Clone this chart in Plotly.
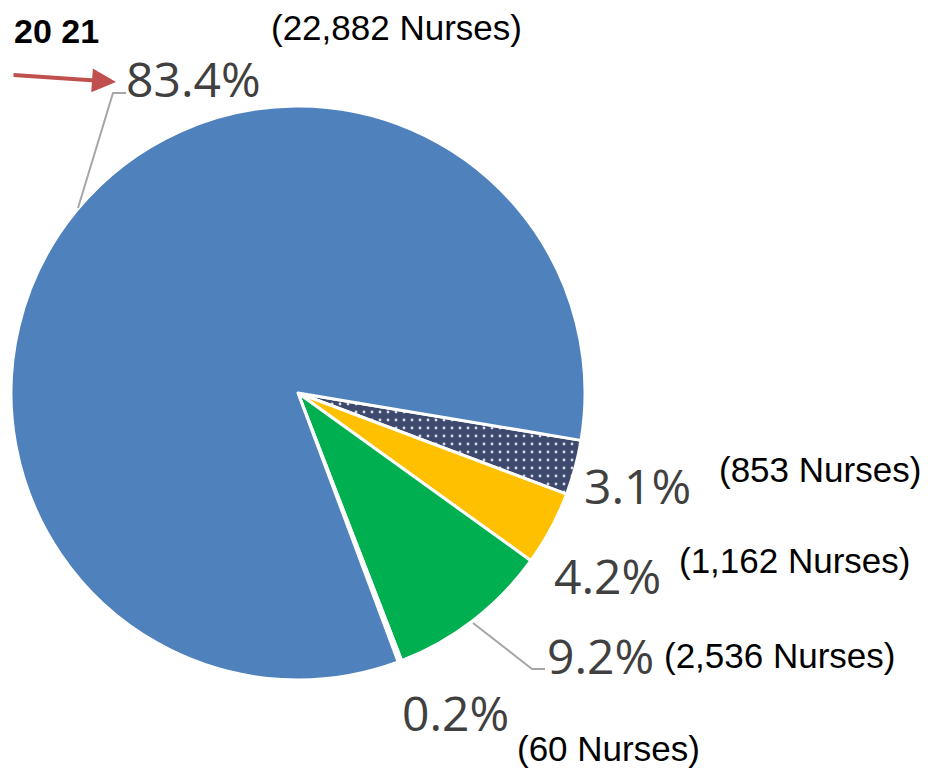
import plotly.graph_objects as go

W, H = 931, 775
OFF = 8  # page body margin offset

categories = ["Group A", "Group B", "Group C", "Group D", "Group E"]
percents = [3.1, 4.2, 9.2, 0.2, 83.4]
nurses = [853, 1162, 2536, 60, 22882]
colors = ["#3E4A6D", "#FFC000", "#00B050", "#FFFFFF", "#4F81BD"]
patterns = [".", "", "", "", ""]

def px(x, y):
    return (x - OFF) / W, 1 - (y - OFF) / H

fig = go.Figure()
d0 = px(11, 680)
d1 = px(585, 106)
fig.add_trace(go.Pie(
    labels=categories,
    values=percents,
    sort=False,
    direction="clockwise",
    rotation=99.5,
    textinfo="none",
    hoverinfo="label+percent",
    marker=dict(colors=colors, line=dict(color="white", width=3),
                pattern=dict(shape=patterns, fgcolor="#D8DCE6", bgcolor="#3E4A6D",
                             size=8, solidity=0.1)),
    domain=dict(x=[d0[0], d1[0]], y=[d0[1], d1[1]]),
    showlegend=False,
))

pct_font = dict(family="Open Sans, Noto Sans, sans-serif", size=48, color="#404040")
n_font = dict(family="Liberation Sans, Arial, sans-serif", size=35, color="#000000")

# label positions (pixel) : (pct x, pct y, nurses x, nurses y)
label_pos = {
    "Group A": (582, 485, 717, 470),
    "Group B": (552, 575, 677, 560),
    "Group C": (545, 655, 662, 655),
    "Group D": (400, 712, 515, 748),
    "Group E": (124, 78, 269, 28),
}

annotations = []
for cat, p, n in zip(categories, percents, nurses):
    x1, y1, x2, y2 = label_pos[cat]
    ax, ay = px(x1, y1)
    annotations.append(dict(x=ax, y=ay, xref="paper", yref="paper", text=f"{p}%",
                            showarrow=False, xanchor="left", yanchor="middle", font=pct_font))
    bx, by = px(x2, y2)
    annotations.append(dict(x=bx, y=by, xref="paper", yref="paper", text=f"({n:,} Nurses)",
                            showarrow=False, xanchor="left", yanchor="middle", font=n_font))

tx, ty = px(12, 31)
annotations.append(dict(x=tx, y=ty, xref="paper", yref="paper", text="<b>20 21</b>",
                        showarrow=False, xanchor="left", yanchor="middle",
                        font=dict(family="Liberation Sans, Arial, sans-serif", size=34, color="#000")))

# red arrow
hx, hy = px(116, 82)
annotations.append(dict(x=hx, y=hy, xref="paper", yref="paper", ax=-104, ay=-7, text="",
                        showarrow=True, arrowhead=2, arrowsize=1.2, arrowwidth=4,
                        arrowcolor="#C0504D"))

shapes = []
def leader(points):
    path = "M " + " L ".join(f"{px(x, y)[0]},{px(x, y)[1]}" for x, y in points)
    shapes.append(dict(type="path", path=path, xref="paper", yref="paper",
                       line=dict(color="#A6A6A6", width=2)))

leader([(78, 208), (113, 93), (126, 93)])
leader([(473, 623), (532, 669), (545, 669)])

fig.update_layout(
    width=W, height=H,
    margin=dict(l=0, r=0, t=0, b=0),
    paper_bgcolor="white", plot_bgcolor="white",
    annotations=annotations, shapes=shapes,
)

fig.write_html("out.html")
